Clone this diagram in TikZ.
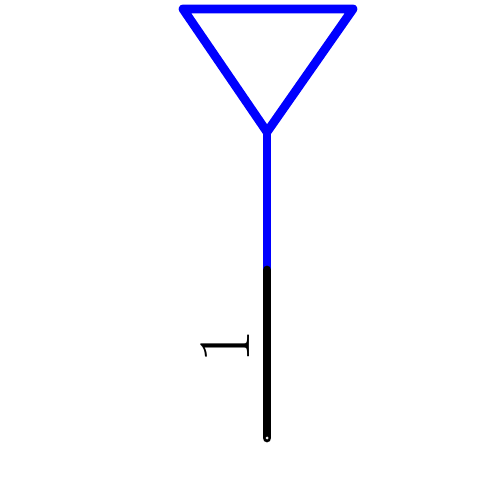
\documentclass[tikz,border=0pt]{standalone}
\usepackage{amsmath}
\usetikzlibrary{arrows.meta,positioning}

\begin{document}
\begin{tikzpicture}[line join=round, line cap=round,
        wire/.style={line width=5pt}]
        \useasboundingbox (0,0) rectangle (10,10);
        % antenna points
        \def\X{5.34}
        \coordinate (apex) at (\X,7.36);
        \coordinate (tl) at (3.66,9.82);
        \coordinate (tr) at (7.06,9.82);
        \coordinate (mid) at (\X,4.6);
        \coordinate (foot) at (\X,1.24);
        % triangle and feed
        \draw[wire,blue] (tl) -- (tr) -- (apex) -- cycle;
        \draw[wire,blue,line cap=butt] (apex) -- (mid);
        \draw[wire,black] (mid) -- (foot);
        \draw[white,fill=white,line width=0.2pt] (foot) circle (0.025);
        % port label
        \node[rotate=90, inner sep=0pt] (lbl) at (4.5,3.06) {\fontsize{42}{46}\selectfont 1};
    \end{tikzpicture}
\end{document}
